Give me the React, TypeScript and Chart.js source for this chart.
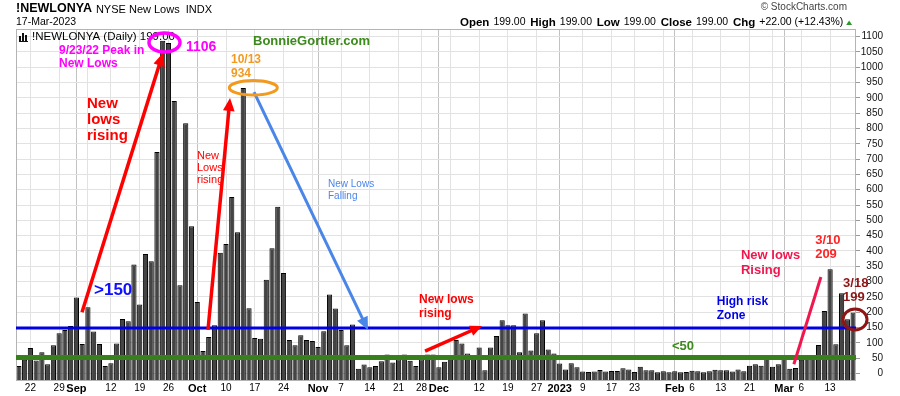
import React, { useEffect, useRef } from 'react';
import { Chart, registerables } from 'chart.js';

Chart.register(...registerables);

const FONT = '"Liberation Sans", Arial, Helvetica, sans-serif';

// ---------- data ----------
const dates = [
  '8/18', '8/19', '8/22', '8/23', '8/24', '8/25', '8/26', '8/29', '8/30', '8/31',
  '9/1', '9/2', '9/6', '9/7', '9/8', '9/9', '9/12', '9/13', '9/14', '9/15', '9/16', '9/19', '9/20', '9/21', '9/22', '9/23', '9/26', '9/27', '9/28', '9/29', '9/30',
  '10/3', '10/4', '10/5', '10/6', '10/7', '10/10', '10/11', '10/12', '10/13', '10/14', '10/17', '10/18', '10/19', '10/20', '10/21', '10/24', '10/25', '10/26', '10/27', '10/28', '10/31',
  '11/1', '11/2', '11/3', '11/4', '11/7', '11/8', '11/9', '11/10', '11/11', '11/14', '11/15', '11/16', '11/17', '11/18', '11/21', '11/22', '11/23', '11/25', '11/28', '11/29', '11/30',
  '12/1', '12/2', '12/5', '12/6', '12/7', '12/8', '12/9', '12/12', '12/13', '12/14', '12/15', '12/16', '12/19', '12/20', '12/21', '12/22', '12/23', '12/27', '12/28', '12/29', '12/30',
  '1/3', '1/4', '1/5', '1/6', '1/9', '1/10', '1/11', '1/12', '1/13', '1/17', '1/18', '1/19', '1/20', '1/23', '1/24', '1/25', '1/26', '1/27', '1/30', '1/31',
  '2/1', '2/2', '2/3', '2/6', '2/7', '2/8', '2/9', '2/10', '2/13', '2/14', '2/15', '2/16', '2/17', '2/21', '2/22', '2/23', '2/24', '2/27', '2/28',
  '3/1', '3/2', '3/3', '3/6', '3/7', '3/8', '3/9', '3/10', '3/13', '3/14', '3/15', '3/16', '3/17',
];

const newLowsAug = [24, 45, 83, 42, 69, 30, 92, 131, 142, 155];
const newLowsSep = [248, 96, 216, 137, 96, 24, 33, 98, 178, 170, 356, 225, 390, 366, 723, 1087, 1079, 890, 288, 817, 481];
const newLowsOct = [233, 73, 119, 157, 394, 423, 576, 461, 932, 213, 116, 113, 306, 409, 544, 328, 109, 92, 125, 109, 106];
const newLowsNov = [86, 138, 258, 212, 142, 92, 160, 15, 29, 20, 24, 40, 62, 36, 46, 62, 41, 24, 46, 62, 62];
const newLowsDec = [20, 38, 55, 109, 98, 65, 59, 85, 10, 85, 122, 174, 157, 157, 69, 196, 75, 131, 174, 78, 65];
const newLowsJan = [32, 13, 33, 20, 6, 5, 6, 11, 6, 8, 8, 17, 13, 5, 22, 10, 10, 4, 7, 4];
const newLowsFeb = [7, 4, 5, 9, 7, 4, 7, 12, 10, 10, 6, 13, 7, 25, 30, 25, 50, 22, 30];
const newLowsMar = [50, 15, 18, 45, 55, 60, 93, 204, 340, 95, 262, 177, 199];
const newLows = [
  ...newLowsAug, ...newLowsSep, ...newLowsOct, ...newLowsNov,
  ...newLowsDec, ...newLowsJan, ...newLowsFeb, ...newLowsMar,
];

const yTickValues = [0, 50, 100, 150, 200, 250, 300, 350, 400, 450, 500, 550, 600, 650, 700, 750, 800, 850, 900, 950, 1000, 1050, 1100];

const xLabelDates = ['8/22', '8/29', '9/1', '9/12', '9/19', '9/26', '10/3', '10/10', '10/17', '10/24', '11/1', '11/7', '11/14', '11/21', '11/28', '12/1', '12/12', '12/19', '12/27', '1/3', '1/9', '1/17', '1/23', '2/1', '2/6', '2/13', '2/21', '3/1', '3/6', '3/13'];
const xLabelTexts = ['22', '29', 'Sep', '12', '19', '26', 'Oct', '10', '17', '24', 'Nov', '7', '14', '21', '28', 'Dec', '12', '19', '27', '2023', '9', '17', '23', 'Feb', '6', '13', '21', 'Mar', '6', '13'];
const monthStartDates = ['9/1', '10/3', '11/1', '12/1', '1/3', '2/1', '3/1'];
const unlabeledWeekDates = ['9/6', '10/31', '12/5', '1/30', '2/27'];

const highRiskLevel = 148;
const lowZoneLevel = 52;

const Y_MIN = -21.5;
const Y_MAX = 1125;

// ---------- colours ----------
const MAGENTA = '#ff00ff';
const ORANGE = '#f39a1e';
const RED = '#ff0000';
const RED2 = '#ff2424';
const PINK = '#f0174f';
const DARKRED = '#8e1515';
const BLUE = '#0000e6';
const BLUE_ARROW = '#4a86e8';
const GREEN_TXT = '#3b8a1b';
const GREEN_LINE = '#37801c';

// ---------- annotations (data coordinates: category index, value) ----------
const textNotes = [
  { lines: ['9/23/22 Peak in', 'New Lows'], i: 6.97, v: 1055, font: 'bold 12px', color: MAGENTA, lh: 13.5 },
  { lines: ['1106'], i: 29.05, v: 1066, font: 'bold 14px', color: MAGENTA, lh: 14 },
  { lines: ['BonnieGortler.com'], i: 40.7, v: 1086, font: 'bold 13px', color: GREEN_TXT, lh: 14 },
  { lines: ['10/13', '934'], i: 36.87, v: 1024, font: 'bold 12px', color: ORANGE, lh: 13.3 },
  { lines: ['New', 'lows', 'rising'], i: 11.84, v: 880, font: 'bold 15px', color: RED, lh: 16 },
  { lines: ['New', 'Lows', 'rising'], i: 30.96, v: 710, font: '11px', color: RED, lh: 12 },
  { lines: ['New Lows', 'Falling'], i: 53.73, v: 616.5, font: '10px', color: BLUE_ARROW, lh: 11.3 },
  { lines: ['>150'], i: 13.06, v: 272, font: 'bold 17px', color: '#1010ff', lh: 17 },
  { lines: ['New lows', 'rising'], i: 69.55, v: 242, font: 'bold 12px', color: RED, lh: 14.7 },
  { lines: ['New lows', 'Rising'], i: 125.5, v: 384.5, font: 'bold 13px', color: PINK, lh: 15 },
  { lines: ['3/10', '209'], i: 138.4, v: 436, font: 'bold 13px', color: RED2, lh: 14 },
  { lines: ['3/18', '199'], i: 143.25, v: 294, font: 'bold 13px', color: DARKRED, lh: 14 },
  { lines: ['High risk', 'Zone'], i: 121.3, v: 234, font: 'bold 12px', color: BLUE, lh: 14 },
  { lines: ['<50'], i: 113.5, v: 87, font: 'bold 13px', color: GREEN_TXT, lh: 13 },
];

const arrowNotes = [
  { from: [10.97, 200], to: [25.05, 1047], color: RED, width: 3.5, head: 13 },
  { from: [32.87, 142], to: [36.7, 900], color: RED, width: 3.5, head: 13 },
  { from: [40.87, 919], to: [60.68, 142], color: BLUE_ARROW, width: 3, head: 13 },
  { from: [70.6, 73], to: [80.5, 155], color: RED, width: 3.5, head: 12 },
  { from: [134.7, 30], to: [139.4, 315], color: PINK, width: 3, head: 0 },
];

const ellipseNotes = [
  { c: [25.31, 1081], rx: 15.5, ry: 9.5, color: MAGENTA, width: 3.5 },
  { c: [40.75, 933], rx: 24, ry: 7.2, color: ORANGE, width: 3 },
  { c: [145.33, 176], rx: 12, ry: 10.5, color: DARKRED, width: 3 },
];

const labelByIndex: Record<number, string> = {};
xLabelDates.forEach((d, k) => { labelByIndex[dates.indexOf(d)] = xLabelTexts[k]; });
const monthIdx = new Set(monthStartDates.map((d) => dates.indexOf(d)));
const weekIdx = new Set([...xLabelDates, ...unlabeledWeekDates].map((d) => dates.indexOf(d)));

function drawArrow(ctx: CanvasRenderingContext2D, x1: number, y1: number, x2: number, y2: number, color: string, width: number, head: number) {
  const ang = Math.atan2(y2 - y1, x2 - x1);
  const hx = x2 - head * Math.cos(ang);
  const hy = y2 - head * Math.sin(ang);
  ctx.strokeStyle = color;
  ctx.lineWidth = width;
  ctx.lineCap = 'butt';
  ctx.beginPath();
  ctx.moveTo(x1, y1);
  ctx.lineTo(head > 0 ? hx + Math.cos(ang) * 2 : x2, head > 0 ? hy + Math.sin(ang) * 2 : y2);
  ctx.stroke();
  if (head > 0) {
    const hw = head * 0.45;
    ctx.fillStyle = color;
    ctx.beginPath();
    ctx.moveTo(x2, y2);
    ctx.lineTo(hx + hw * Math.sin(ang), hy - hw * Math.cos(ang));
    ctx.lineTo(hx - hw * Math.sin(ang), hy + hw * Math.cos(ang));
    ctx.closePath();
    ctx.fill();
  }
}

const annotationPlugin = {
  id: 'stockchartsAnnotations',
  beforeDatasetsDraw(chart: any) {
    const { ctx, chartArea } = chart;
    ctx.save();
    ctx.fillStyle = '#111';
    const ix = chartArea.left + 3;
    const iy = chartArea.top + 3;
    ctx.fillRect(ix, iy + 4, 2, 6);
    ctx.fillRect(ix + 3, iy + 1, 2, 9);
    ctx.fillRect(ix + 6, iy + 3, 2, 7);
    ctx.fillRect(ix, iy + 9, 9, 1);
    ctx.font = `11.5px ${FONT}`;
    ctx.textBaseline = 'middle';
    ctx.textAlign = 'left';
    ctx.fillStyle = '#000';
    ctx.fillText(`!NEWLONYA (Daily) ${newLows[newLows.length - 1].toFixed(2)}`, chartArea.left + 16, chartArea.top + 8);
    ctx.restore();
  },
  afterDatasetsDraw(chart: any) {
    const { ctx, chartArea, scales } = chart;
    const xs = scales.x;
    const ys = scales.y;
    const px = (i: number) => xs.getPixelForValue(i);
    const py = (v: number) => ys.getPixelForValue(v);
    ctx.save();

    ctx.strokeStyle = '#b4b4b4';
    ctx.lineWidth = 1;
    ctx.strokeRect(chartArea.left + 0.5, chartArea.top + 0.5, chartArea.right - chartArea.left - 1, chartArea.bottom - chartArea.top);

    ctx.lineCap = 'butt';
    ctx.strokeStyle = GREEN_LINE;
    ctx.lineWidth = 5;
    ctx.beginPath();
    ctx.moveTo(chartArea.left, py(lowZoneLevel));
    ctx.lineTo(chartArea.right, py(lowZoneLevel));
    ctx.stroke();
    ctx.strokeStyle = BLUE;
    ctx.lineWidth = 3;
    ctx.beginPath();
    ctx.moveTo(chartArea.left, py(highRiskLevel));
    ctx.lineTo(chartArea.right, py(highRiskLevel));
    ctx.stroke();

    arrowNotes.forEach((a) => {
      drawArrow(ctx, px(a.from[0]), py(a.from[1]), px(a.to[0]), py(a.to[1]), a.color, a.width, a.head);
    });

    ellipseNotes.forEach((e) => {
      ctx.strokeStyle = e.color;
      ctx.lineWidth = e.width;
      ctx.beginPath();
      ctx.ellipse(px(e.c[0]), py(e.c[1]), e.rx, e.ry, 0, 0, Math.PI * 2);
      ctx.stroke();
    });

    ctx.textBaseline = 'middle';
    ctx.textAlign = 'left';
    textNotes.forEach((t) => {
      ctx.font = `${t.font} ${FONT}`;
      ctx.fillStyle = t.color;
      t.lines.forEach((line, k) => {
        ctx.fillText(line, px(t.i), py(t.v) + k * t.lh);
      });
    });
    ctx.restore();
  },
  afterDraw(chart: any) {
    const { ctx } = chart;
    ctx.save();
    ctx.textBaseline = 'middle';
    ctx.textAlign = 'left';
    ctx.fillStyle = '#000';
    ctx.font = `bold 12.5px ${FONT}`;
    ctx.fillText('!NEWLONYA', 16, 9);
    const w1 = ctx.measureText('!NEWLONYA').width;
    ctx.font = `11px ${FONT}`;
    ctx.fillText('NYSE New Lows  INDX', 16 + w1 + 4, 9.5);
    ctx.font = `10.5px ${FONT}`;
    ctx.fillText('17-Mar-2023', 16, 22.5);

    ctx.fillStyle = '#444';
    ctx.font = `10px ${FONT}`;
    ctx.textAlign = 'right';
    ctx.fillText('\u00A9 StockCharts.com', 847, 7.5);

    ctx.textAlign = 'left';
    ctx.fillStyle = '#000';
    const last = newLows[newLows.length - 1];
    const prev = newLows[newLows.length - 2];
    const chg = last - prev;
    const pct = (chg / prev) * 100;
    const parts: [string, boolean][] = [
      ['Open', true], [last.toFixed(2), false],
      ['High', true], [last.toFixed(2), false],
      ['Low', true], [last.toFixed(2), false],
      ['Close', true], [last.toFixed(2), false],
      ['Chg', true], [`+${chg.toFixed(2)} (+${pct.toFixed(2)}%)`, false],
    ];
    let x = 460;
    parts.forEach(([txt, bold]) => {
      ctx.font = bold ? `bold 11.5px ${FONT}` : `10.5px ${FONT}`;
      ctx.fillText(txt, x, 22.5);
      x += ctx.measureText(txt).width + (bold ? 4 : 4.8);
    });
    x += 1;
    ctx.fillStyle = '#2a9a2a';
    ctx.beginPath();
    ctx.moveTo(x - 3, 25);
    ctx.lineTo(x + 3, 25);
    ctx.lineTo(x, 20.5);
    ctx.closePath();
    ctx.fill();
    ctx.restore();
  },
};

export default function App() {
  const canvasRef = useRef<HTMLCanvasElement | null>(null);

  useEffect(() => {
    document.body.style.margin = '0';
    const canvas = canvasRef.current;
    if (!canvas) return;
    const chart = new Chart(canvas, {
      type: 'bar',
      data: {
        labels: dates,
        datasets: [
          {
            label: 'NYSE New Lows',
            data: newLows,
            backgroundColor: '#444444',
            borderColor: '#000000',
            borderWidth: 1,
            barPercentage: 0.9,
            categoryPercentage: 1,
            base: Y_MIN,
          } as any,
        ],
      },
      options: {
        responsive: false,
        animation: false,
        devicePixelRatio: 1,
        layout: { padding: { left: 16, top: 29, right: 17, bottom: 0 } },
        plugins: {
          legend: { display: false },
          tooltip: { enabled: false },
          title: { display: false },
        },
        scales: {
          x: {
            type: 'category',
            offset: true,
            border: { display: false },
            grid: {
              offset: false,
              drawTicks: false,
              lineWidth: 1,
              color: (ctx: any) => {
                const i = ctx.index;
                if (monthIdx.has(i)) return '#c2c2c2';
                if (weekIdx.has(i)) return '#e2e2e2';
                return 'rgba(0,0,0,0)';
              },
            },
            ticks: {
              autoSkip: false,
              maxRotation: 0,
              minRotation: 0,
              padding: 2,
              color: '#000',
              font: (ctx: any) => (monthIdx.has(ctx.index)
                ? { family: FONT, size: 11, weight: 'bold' }
                : { family: FONT, size: 10, weight: 'normal' }),
              callback: (_v: any, i: number) => labelByIndex[i] ?? '',
            },
            afterFit: (s: any) => { s.height = 16; },
          },
          y: {
            position: 'right',
            min: Y_MIN,
            max: Y_MAX,
            afterBuildTicks: (s: any) => { s.ticks = yTickValues.map((v) => ({ value: v })); },
            border: { display: false },
            grid: { color: '#e2e2e2', lineWidth: 1, tickLength: 4, tickColor: '#9a9a9a' },
            ticks: {
              crossAlign: 'far',
              padding: 0,
              color: '#111',
              font: { family: FONT, size: 10 },
              callback: (v: any) => String(v),
            },
            afterFit: (s: any) => { s.width = 27; },
          },
        },
      },
      plugins: [annotationPlugin],
    });
    return () => { chart.destroy(); };
  }, []);

  return (
    <div style={{ position: 'fixed', left: 0, top: 0, width: 900, height: 396, background: '#ffffff' }}>
      <canvas ref={canvasRef} width={900} height={396} style={{ display: 'block', width: 900, height: 396 }} />
    </div>
  );
}
